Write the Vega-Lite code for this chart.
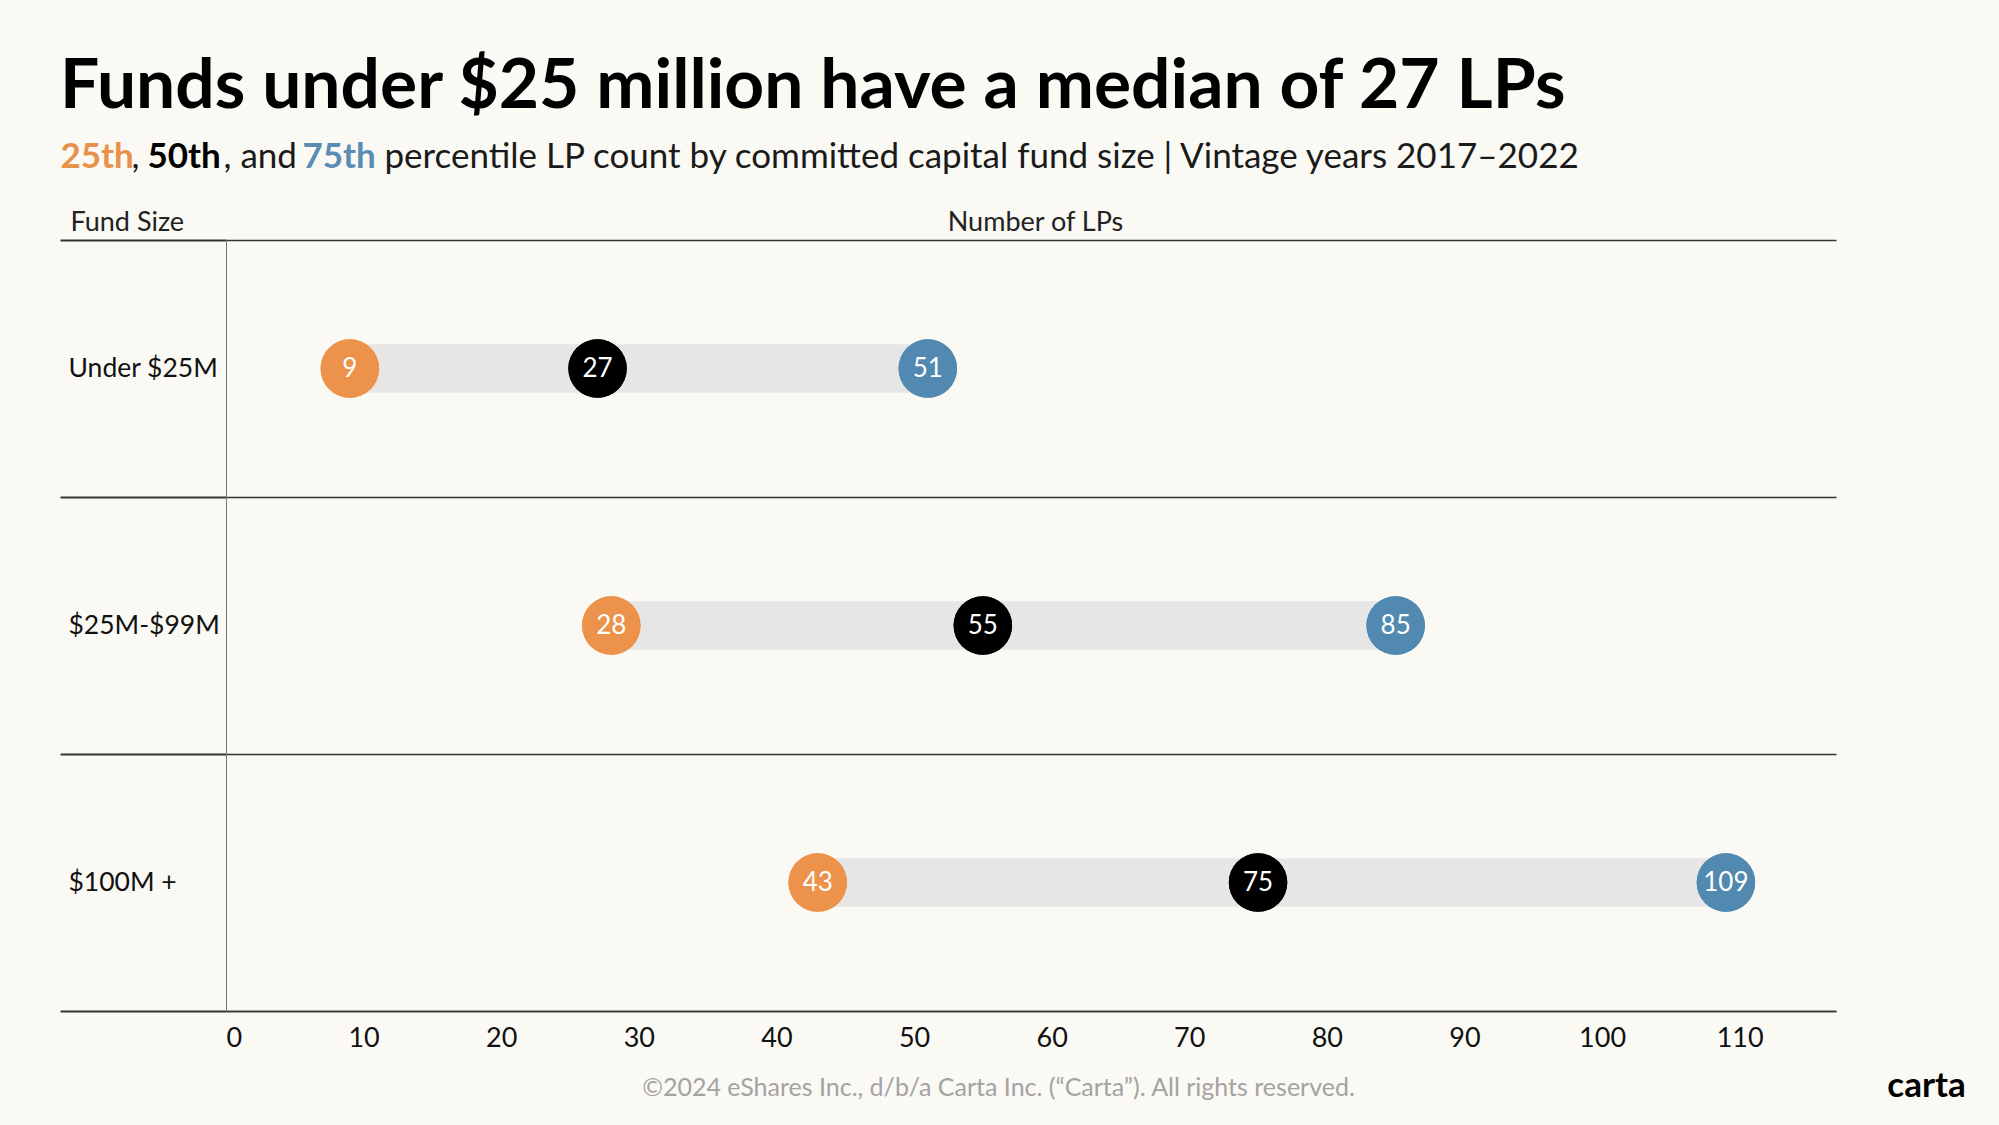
{
  "$schema": "https://vega.github.io/schema/vega-lite/v6.json",
  "width": 1610,
  "height": 771,
  "autosize": {"type": "none"},
  "padding": {"left": 226, "top": 240, "right": 163, "bottom": 114},
  "background": "#FBF9F4",
  "config": {"view": {"stroke": null}, "font": "Lato"},
  "title": {
    "text": "Funds under $25 million have a median of 27 LPs",
    "anchor": "start",
    "frame": "group",
    "dx": -166,
    "offset": 17,
    "font": "Lato",
    "fontSize": 69.5,
    "fontWeight": 700,
    "color": "#000000"
  },
  "data": {
    "values": [
      {"fund": "Under $25M", "p25": 9, "p50": 27, "p75": 51},
      {"fund": "$25M-$99M", "p25": 28, "p50": 55, "p75": 85},
      {"fund": "$100M +", "p25": 43, "p50": 75, "p75": 109}
    ]
  },
  "layer": [
    {
      "mark": {"type": "bar", "height": 48, "color": "#E6E6E6"},
      "encoding": {
        "y": {
          "field": "fund",
          "type": "nominal",
          "sort": null,
          "scale": {"paddingInner": 0, "paddingOuter": 0},
          "axis": {
            "orient": "left",
            "title": "Fund Size",
            "titleX": -156,
            "titleY": -10,
            "titleAngle": 0,
            "titleAlign": "left",
            "titleBaseline": "alphabetic",
            "titleFontSize": 27,
            "titleFontWeight": 400,
            "titleColor": "#222222",
            "labelAlign": "left",
            "labelPadding": -8,
            "labelFontSize": 26.5,
            "labelColor": "#111111",
            "labelBaseline": "middle",
            "labelLimit": 400,
            "tickBand": "extent",
            "tickSize": 166,
            "tickColor": "#333333",
            "tickWidth": 2,
            "grid": true,
            "gridColor": "#333333",
            "gridWidth": 1.5,
            "domainColor": "#777777",
            "domainWidth": 1
          }
        },
        "x": {
          "field": "p25",
          "type": "quantitative",
          "scale": {"domain": [0, 117], "nice": false, "zero": true},
          "axis": {
            "orient": "bottom",
            "title": "Number of LPs",
            "titleX": 809,
            "titleY": -781,
            "titleAlign": "center",
            "titleBaseline": "alphabetic",
            "titleFontSize": 27,
            "titleFontWeight": 400,
            "titleColor": "#222222",
            "values": [0, 10, 20, 30, 40, 50, 60, 70, 80, 90, 100, 110],
            "labelFontSize": 27,
            "labelColor": "#111111",
            "labelPadding": 14,
            "labelFlush": true,
            "ticks": false,
            "grid": false,
            "domainColor": "#333333",
            "domainWidth": 1.5
          }
        },
        "x2": {"field": "p75"}
      }
    },
    {
      "mark": {"type": "bar", "height": 48, "color": "#E6E6E6"},
      "encoding": {
        "y": {
          "field": "fund",
          "type": "nominal",
          "sort": null,
          "axis": {
            "orient": "left",
            "title": "50th",
            "labels": false, "ticks": false, "domain": false, "grid": false,
            "titleX": -79, "titleY": -73, "titleAngle": 0,
            "titleAlign": "left", "titleBaseline": "alphabetic",
            "titleFontSize": 35, "titleFontWeight": 700, "titleColor": "#000000"
          }
        },
        "x": {
          "field": "p25",
          "type": "quantitative",
          "axis": {
            "orient": "top",
            "title": "25th",
            "labels": false, "ticks": false, "domain": false, "grid": false,
            "titleX": -166, "titleY": -73,
            "titleAlign": "left", "titleBaseline": "alphabetic",
            "titleFontSize": 35, "titleFontWeight": 700, "titleColor": "#E8914A"
          }
        },
        "x2": {"field": "p75"}
      }
    },
    {
      "transform": [{"fold": ["p25", "p50", "p75"], "as": ["pct", "value"]}],
      "mark": {"type": "circle", "size": 3420, "opacity": 1},
      "encoding": {
        "y": {
          "field": "fund",
          "type": "nominal",
          "sort": null,
          "axis": {
            "orient": "left",
            "title": "75th",
            "labels": false, "ticks": false, "domain": false, "grid": false,
            "titleX": 76, "titleY": -73, "titleAngle": 0,
            "titleAlign": "left", "titleBaseline": "alphabetic",
            "titleFontSize": 35, "titleFontWeight": 700, "titleColor": "#5A8DB3"
          }
        },
        "x": {
          "field": "value",
          "type": "quantitative",
          "axis": {
            "orient": "top",
            "title": "©2024 eShares Inc., d/b/a Carta Inc. (“Carta”). All rights reserved.",
            "labels": false, "ticks": false, "domain": false, "grid": false,
            "titleX": 772, "titleY": 855,
            "titleAlign": "center", "titleBaseline": "alphabetic",
            "titleFontSize": 25, "titleFontWeight": 400, "titleColor": "#A3A3A3"
          }
        },
        "color": {
          "field": "pct",
          "type": "nominal",
          "scale": {"domain": ["p25", "p50", "p75"], "range": ["#EC924A", "#000000", "#5189B0"]},
          "legend": null
        }
      }
    },
    {
      "transform": [{"fold": ["p25", "p50", "p75"], "as": ["pct", "value"]}],
      "mark": {"type": "circle", "size": 3420, "opacity": 1},
      "encoding": {
        "y": {
          "field": "fund",
          "type": "nominal",
          "sort": null,
          "axis": {
            "orient": "left",
            "title": ", and",
            "labels": false, "ticks": false, "domain": false, "grid": false,
            "titleX": -3, "titleY": -73, "titleAngle": 0,
            "titleAlign": "left", "titleBaseline": "alphabetic",
            "titleFontSize": 35, "titleFontWeight": 400, "titleColor": "#1A1A1A"
          }
        },
        "x": {
          "field": "value",
          "type": "quantitative",
          "axis": {
            "orient": "top",
            "title": ",",
            "labels": false, "ticks": false, "domain": false, "grid": false,
            "titleX": -95, "titleY": -73,
            "titleAlign": "left", "titleBaseline": "alphabetic",
            "titleFontSize": 35, "titleFontWeight": 400, "titleColor": "#1A1A1A"
          }
        },
        "color": {
          "field": "pct",
          "type": "nominal",
          "scale": {"domain": ["p25", "p50", "p75"], "range": ["#EC924A", "#000000", "#5189B0"]},
          "legend": null
        }
      }
    },
    {
      "transform": [{"fold": ["p25", "p50", "p75"], "as": ["pct", "value"]}],
      "mark": {"type": "text", "color": "#FFFFFF", "fontSize": 26, "align": "center", "baseline": "middle"},
      "encoding": {
        "y": {
          "field": "fund",
          "type": "nominal",
          "sort": null,
          "axis": {
            "orient": "right",
            "title": "carta",
            "labels": false, "ticks": false, "domain": false, "grid": false,
            "titleX": 90, "titleY": 856, "titleAngle": 0,
            "titleAlign": "center", "titleBaseline": "alphabetic",
            "titleFontSize": 35, "titleFontWeight": 700, "titleColor": "#000000"
          }
        },
        "x": {
          "field": "value",
          "type": "quantitative",
          "axis": {
            "orient": "top",
            "title": "percentile LP count by committed capital fund size | Vintage years 2017–2022",
            "labels": false, "ticks": false, "domain": false, "grid": false,
            "titleX": 158, "titleY": -73,
            "titleAlign": "left", "titleBaseline": "alphabetic",
            "titleFontSize": 35, "titleFontWeight": 400, "titleColor": "#1A1A1A",
            "titleLimit": 2000
          }
        },
        "text": {"field": "value", "type": "quantitative"}
      }
    }
  ],
  "resolve": {"axis": {"x": "independent", "y": "independent"}}
}
